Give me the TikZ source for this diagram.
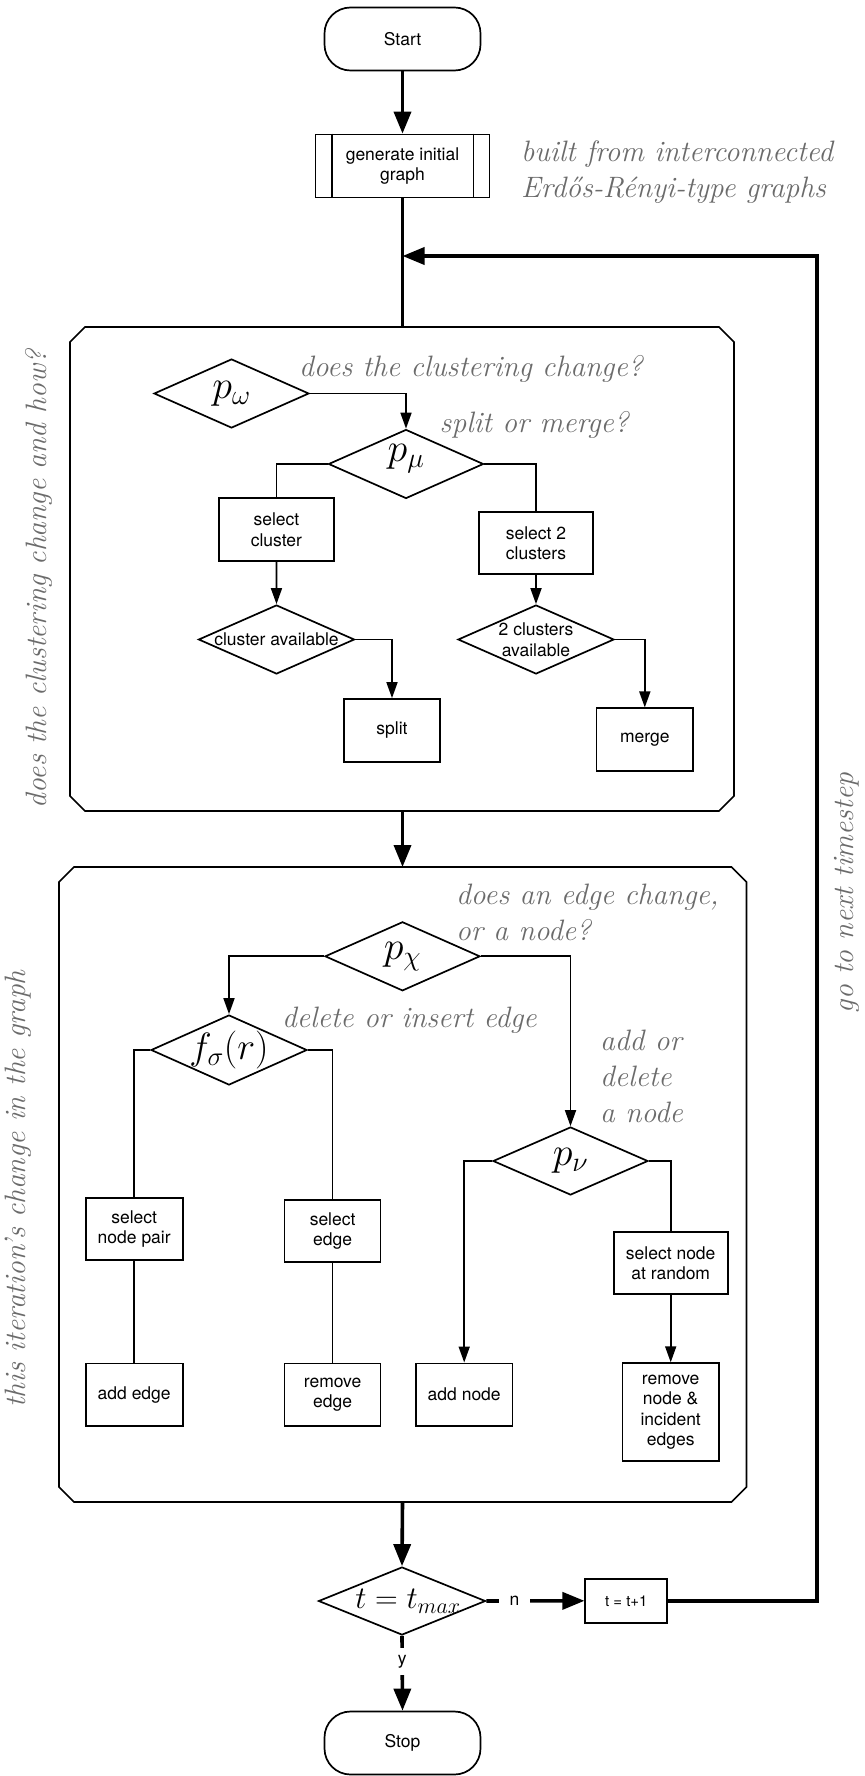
\RequirePackage{fix-cm}
\documentclass[tikz,border=0pt]{standalone}
\usepackage{fontspec}
\newfontfamily\hv{TeX Gyre Heros}
\usetikzlibrary{shapes.geometric,arrows.meta}
\tikzset{
  sans/.style={font=\hv\fontsize{17.5}{20.5}\selectfont, align=center, inner sep=0pt},
  box/.style={draw, line width=1.7pt, rectangle, inner sep=0pt, sans},
  dia/.style={draw, line width=1.7pt, diamond, inner sep=0pt},
  conn/.style={line width=1.7pt, line join=miter},
  arr/.style={conn, -{Triangle[length=16pt,width=11pt]}},
  thk/.style={line width=3.6pt, line join=miter},
  tarr/.style={thk, -{Triangle[length=22pt,width=17pt]}},
  note/.style={font=\fontsize{29.5}{36}\selectfont\itshape, text=black!58, align=left, inner sep=0pt},
  mlab/.style={font=\fontsize{40}{46}\selectfont, inner sep=0pt},
  container/.style={line width=1.7pt, line join=miter},
}
\begin{document}
\begin{tikzpicture}[x=1pt,y=-1pt]
\useasboundingbox (0,0) rectangle (864,1776);

% top
\node[box, minimum width=156pt, minimum height=63pt, rounded corners=26pt] (start) at (402.5,39) {Start};
\node[box, minimum width=174pt, minimum height=63pt] (gen) at (402.5,166) {generate initial\\graph};
\draw[line width=1.7pt] ([xshift=17pt]gen.north west) -- ([xshift=17pt]gen.south west);
\draw[line width=1.7pt] ([xshift=-17pt]gen.north east) -- ([xshift=-17pt]gen.south east);
\node[note, anchor=base west] (ann1) at (521,198) {built from interconnected\\Erd\H{o}s-R\'enyi-type graphs};
\draw[tarr] (start.south) -- (gen.north);

% container 1
\draw[container] (85,327) -- (719,327) -- (734,342) -- (734,796) -- (719,811) -- (85,811) -- (70,796) -- (70,342) -- cycle;
\coordinate (b1n) at (402.5,327);
\coordinate (b1s) at (402.5,811);
\coordinate (fbin) at (402.5,256);
\coordinate (fbr) at (817,256);
\draw[thk] (gen.south) -- (b1n);

\node[dia, minimum width=155pt, minimum height=69pt] (pw) at (231.5,393.5) {};
\node[mlab] (pwt) at (pw) {$p_\omega$};
\node[dia, minimum width=155pt, minimum height=69pt] (pmu) at (406,464) {};
\node[mlab, yshift=5pt] (pmut) at (pmu) {$p_\mu$};
\node[note, anchor=base west] (ann2) at (299,376) {does the clustering change?};
\node[note, anchor=base west] (ann3) at (439.5,432) {split or merge?};
\node[box, minimum width=115pt, minimum height=62.4pt] (selc) at (276.4,529.5) {select\\cluster};
\node[box, minimum width=114.3pt, minimum height=62.6pt] (sel2) at (536,543) {select 2\\clusters};
\node[dia, minimum width=156pt, minimum height=69pt] (cav) at (276.5,639.5) {};
\node[sans] (cavt) at (cav) {cluster available};
\node[dia, minimum width=156pt, minimum height=69pt] (c2av) at (536,639.5) {};
\node[sans] (c2avt) at (c2av) {2 clusters\\available};
\node[box, minimum width=96pt, minimum height=63pt] (split) at (392,730.5) {split};
\node[box, minimum width=96.4pt, minimum height=62.4pt] (merge) at (644.8,739.5) {merge};

\draw[arr] (pw.east) -| (pmu.north);
\draw[conn] (pmu.west) -| (selc.north);
\draw[conn] (pmu.east) -| (sel2.north);
\draw[arr] (selc.south) -- (cav.north);
\draw[arr] (sel2.south) -- (c2av.north);
\draw[arr] (cav.east) -| (split.north);
\draw[arr] (c2av.east) -| (merge.north);

% container 2
\draw[container] (74,867) -- (731.5,867) -- (746.5,882) -- (746.5,1487) -- (731.5,1502) -- (74,1502) -- (59,1487) -- (59,882) -- cycle;
\coordinate (b2n) at (402.5,867);
\coordinate (b2s) at (402.5,1502);
\draw[tarr] (b1s) -- (b2n);

\node[note, anchor=base west] (ann4) at (456,940) {does an edge change,\\or a node?};
\node[dia, minimum width=155pt, minimum height=69pt] (pchi) at (402.5,956.3) {};
\node[mlab] (pchit) at (pchi) {$p_\chi$};
\node[dia, minimum width=156pt, minimum height=70pt] (fsig) at (229,1050) {};
\node[mlab, font=\fontsize{38}{44}\selectfont] (fsigt) at (fsig) {$f_\sigma(r)$};
\node[note, anchor=base west] (ann5) at (282,1027) {delete or insert edge};
\node[note, anchor=base west] (ann6) at (600,1122) {add or\\delete\\a node};
\node[dia, minimum width=155pt, minimum height=68pt] (pnu) at (570.5,1161) {};
\node[mlab] (pnut) at (pnu) {$p_\nu$};

\node[box, minimum width=97pt, minimum height=62pt] (snp) at (134.2,1229) {select\\node pair};
\node[box, minimum width=96pt, minimum height=62pt] (sedge) at (332.6,1231) {select\\edge};
\node[box, minimum width=114pt, minimum height=62pt] (snr) at (670.7,1263) {select node\\at random};
\node[box, minimum width=97pt, minimum height=62.7pt] (addedge) at (134.2,1394.7) {add edge};
\node[box, minimum width=96pt, minimum height=62.7pt] (remedge) at (332.6,1394.7) {remove\\edge};
\node[box, minimum width=96.4pt, minimum height=62.7pt] (addnode) at (464.2,1394.7) {add node};
\node[box, minimum width=96.5pt, minimum height=97.7pt] (remnode) at (670.7,1412) {remove\\node \&\\incident\\edges};

\draw[arr] (pchi.west) -| (fsig.north);
\draw[arr] (pchi.east) -| (pnu.north);
\draw[conn] (fsig.west) -| (snp.north);
\draw[conn] (fsig.east) -| (sedge.north);
\draw[conn] (snp.south) -- (addedge.north);
\draw[conn] (sedge.south) -- (remedge.north);
\draw[arr] (pnu.west) -| (addnode.north);
\draw[conn] (pnu.east) -| (snr.north);
\draw[arr] (snr.south) -- (remnode.north);

% bottom
\node[dia, minimum width=167pt, minimum height=68pt] (tmax) at (402,1601) {};
\node[mlab, font=\fontsize{31.5}{36}\selectfont, xshift=6pt] (tmaxt) at (tmax) {$t=t_{max}$};
\node[box, minimum width=82pt, minimum height=43.7pt, font=\hv\fontsize{15}{18}\selectfont] (ttp1) at (626.3,1600.8) {t = t+1};
\node[box, minimum width=156pt, minimum height=63pt, rounded corners=26pt] (stop) at (402.5,1743) {Stop};

\draw[tarr] (b2s) -- (tmax.north);
\draw[tarr] (tmax.east) -- node[sans, pos=0.287, fill=white, inner xsep=11pt, inner ysep=4pt] (nlab) {n} (ttp1.west);
\draw[tarr] (tmax.south) -- node[sans, pos=0.345, fill=white, inner xsep=4pt, inner ysep=7pt] (ylab) {y} (stop.north);
\draw[tarr] (ttp1.east) -| (fbr) -- (fbin);

% rotated annotations
\node[note, rotate=90, anchor=base] (lt1) at (46.5,579) {does the clustering change and how?};
\node[note, rotate=90, anchor=base] (lt2) at (25,1189) {this iteration's change in the graph};
\node[note, rotate=90, anchor=base] (rt) at (853.5,893) {go to next timestep};
\end{tikzpicture}
\end{document}
